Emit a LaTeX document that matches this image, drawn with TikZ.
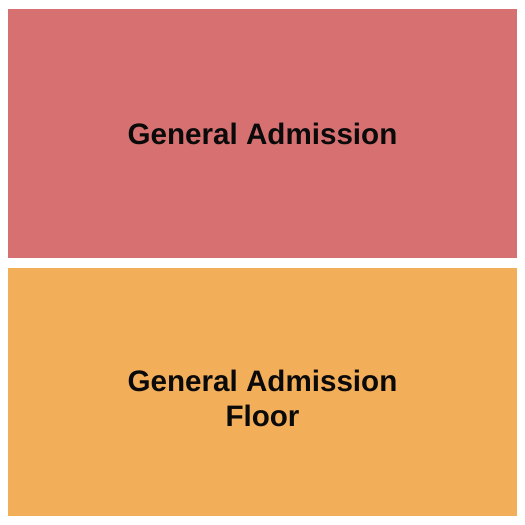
\documentclass[tikz,border=0pt]{standalone}
\usepackage{fontspec}
\setmainfont{Liberation Sans}
\definecolor{garedcol}{HTML}{D77171}
\definecolor{gaorangecol}{HTML}{F3AE5A}
\definecolor{gatextcol}{HTML}{0A0A0A}
\begin{document}
\begin{tikzpicture}[x=1pt,y=-1pt,
  sectionlabel/.style={anchor=base,inner sep=0pt,text=gatextcol,font=\fontsize{29.6}{35}\selectfont\bfseries}]
\useasboundingbox (0,0) rectangle (525,525);
\fill[white] (0,0) rectangle (525,525);
\fill[garedcol] (8,9) rectangle (517,258);
\fill[gaorangecol] (8,268) rectangle (517,516);
\node[sectionlabel] (ga) at (262.5,144) {General Admission};
\node[sectionlabel] (gaf1) at (262.5,391) {General Admission};
\node[sectionlabel] (gaf2) at (262.5,426) {Floor};
\end{tikzpicture}
\end{document}
